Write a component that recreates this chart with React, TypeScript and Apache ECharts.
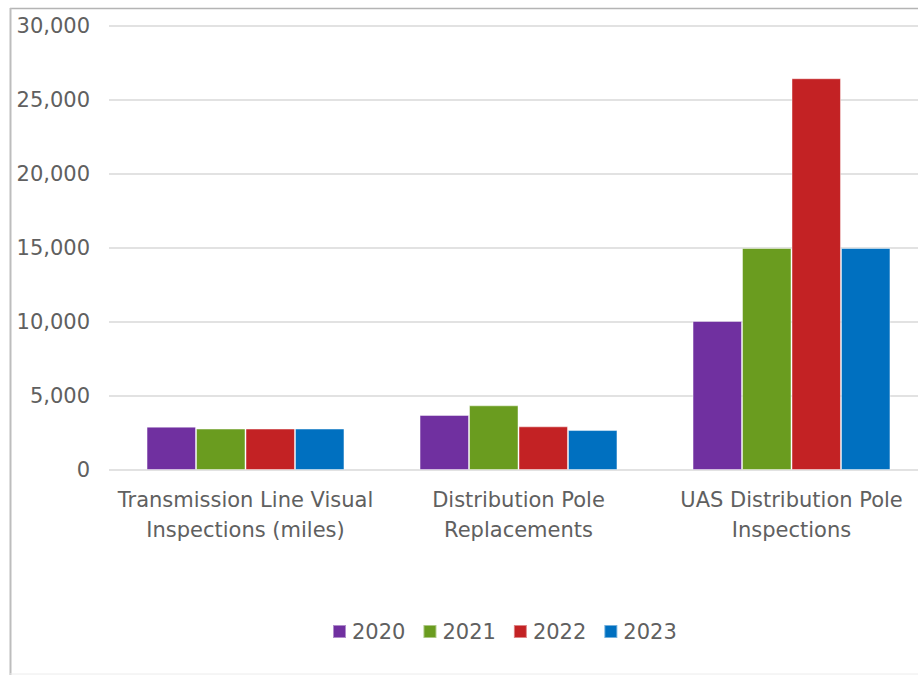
import React, { useEffect, useRef } from "react";
import * as echarts from "echarts";

const categories = [
  "Transmission Line Visual\nInspections (miles)",
  "Distribution Pole\nReplacements",
  "UAS Distribution Pole\nInspections",
];
const years = ["2020", "2021", "2022", "2023"];
const values2020 = [2930, 3720, 10070];
const values2021 = [2800, 4370, 15000];
const values2022 = [2800, 2950, 26470];
const values2023 = [2800, 2700, 15000];
const yearColors = ["#7030A0", "#6A9C1F", "#C32224", "#0070C0"];
const yTicks = { min: 0, max: 30000, interval: 5000 };

const FONT = "DejaVu Sans";
const TEXT = "#606060";

export default function App() {
  const ref = useRef<HTMLDivElement>(null);

  useEffect(() => {
    if (!ref.current) return;
    const chart = echarts.init(ref.current, null, { renderer: "svg" });
    const seriesValues = [values2020, values2021, values2022, values2023];
    chart.setOption({
      animation: false,
      backgroundColor: "#ffffff",
      textStyle: { fontFamily: FONT },
      grid: { left: 109, top: 26, width: 819, height: 444, containLabel: false },
      xAxis: {
        type: "category",
        data: categories,
        axisLine: { show: false },
        axisTick: { show: false },
        axisLabel: {
          color: TEXT,
          fontFamily: FONT,
          fontSize: 21,
          lineHeight: 30,
          margin: 15,
          interval: 0,
        },
      },
      yAxis: {
        type: "value",
        min: yTicks.min,
        max: yTicks.max,
        interval: yTicks.interval,
        axisLine: { show: false },
        axisTick: { show: false },
        splitLine: { lineStyle: { color: "#d9d9d9", width: 1.5 } },
        axisLabel: {
          color: TEXT,
          fontFamily: FONT,
          fontSize: 21,
          margin: 19,
          formatter: (v: number) => v.toLocaleString("en-US"),
        },
      },
      legend: {
        data: years,
        top: 616,
        left: 327,
        itemWidth: 13,
        itemHeight: 13,
        itemGap: 17,
        icon: "rect",
        textStyle: { color: TEXT, fontFamily: FONT, fontSize: 21, padding: [0, 0, 0, 1] },
      },
      series: years.map((y, i) => ({
        name: y,
        type: "bar",
        data: seriesValues[i],
        barGap: "0%",
        barCategoryGap: "27.5%",
        itemStyle: {
          color: yearColors[i],
          borderColor: "rgba(255,255,255,0.45)",
          borderWidth: 1,
        },
      })),
      graphic: [
        {
          type: "line",
          shape: { x1: 10, y1: 8.5, x2: 940, y2: 8.5 },
          style: { stroke: "#b4b4b4", lineWidth: 1.5 },
        },
        {
          type: "line",
          shape: { x1: 10.5, y1: 8, x2: 10.5, y2: 675 },
          style: { stroke: "#bdbdbd", lineWidth: 2 },
        },
        {
          type: "line",
          shape: { x1: 10, y1: 674, x2: 940, y2: 674 },
          style: { stroke: "#ececec", lineWidth: 1 },
        },
      ],
    });
    return () => chart.dispose();
  }, []);

  return (
    <div
      style={{
        position: "fixed",
        left: 0,
        top: 0,
        width: 918,
        height: 675,
        overflow: "hidden",
        background: "#fff",
      }}
    >
      <div ref={ref} style={{ width: 940, height: 675 }} />
    </div>
  );
}
